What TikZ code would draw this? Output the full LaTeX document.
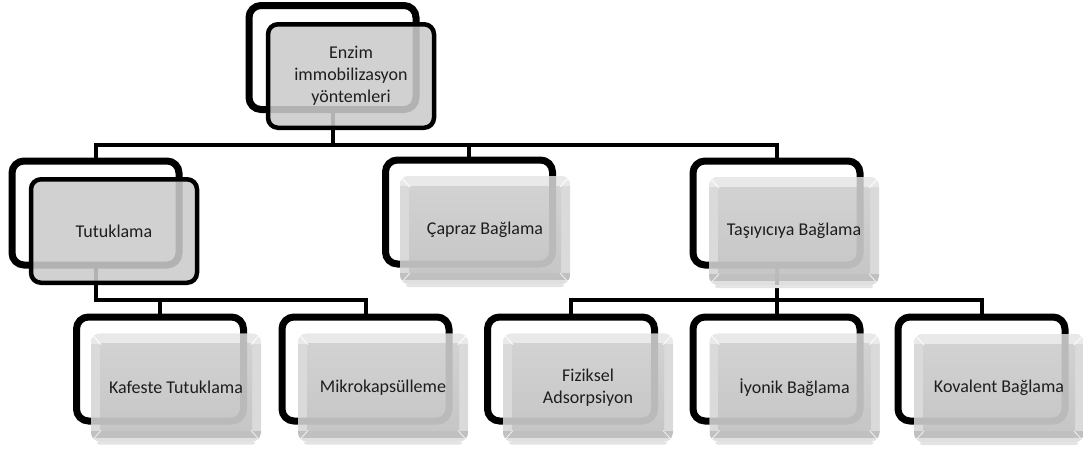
\documentclass[tikz,border=0pt]{standalone}
\usepackage{fontspec}
\setmainfont{Carlito}
\definecolor{flatgray}{RGB}{209,209,209}
\definecolor{flatghost}{RGB}{178,178,178}
\definecolor{glosstopc}{RGB}{233,233,233}
\definecolor{glossside}{RGB}{218,218,218}
\definecolor{facetop}{RGB}{210,210,210}
\definecolor{facebot}{RGB}{198,198,198}
\definecolor{glossbotband}{RGB}{192,192,192}
\definecolor{glosshl}{RGB}{224,224,224}
\definecolor{glossghost}{RGB}{186,186,186}
\definecolor{shadowgray}{RGB}{228,228,228}
\definecolor{txt}{RGB}{30,30,30}
\newcommand{\ppbb}{path picture bounding box}
\newcommand{\glossfill}{%
  \fill[glosstopc, sharp corners] (\ppbb.north west) rectangle ([yshift=-10pt]\ppbb.north east);
  \fill[glossside, sharp corners] ([yshift=-10pt]\ppbb.north west) rectangle ([yshift=11pt]\ppbb.south east);
  \shade[top color=facetop, bottom color=facebot, sharp corners]
    ([xshift=9pt,yshift=-10pt]\ppbb.north west) rectangle ([xshift=-9pt,yshift=11pt]\ppbb.south east);
  \fill[glossbotband, sharp corners] ([yshift=11pt]\ppbb.south west) rectangle ([yshift=4pt]\ppbb.south east);
  \fill[glosshl, sharp corners] ([yshift=4pt]\ppbb.south west) rectangle (\ppbb.south east);}
\newcommand{\glossdiag}{%
  \draw[white, line width=0.8pt] ([xshift=1pt,yshift=-1pt]\ppbb.north west) -- ++(9pt,-10pt);
  \draw[white, line width=0.8pt] ([xshift=-1pt,yshift=-1pt]\ppbb.north east) -- ++(-9pt,-10pt);
  \draw[white!90!gray, line width=0.8pt] ([xshift=1pt,yshift=1pt]\ppbb.south west) -- ++(9pt,10pt);
  \draw[white!90!gray, line width=0.8pt] ([xshift=-1pt,yshift=1pt]\ppbb.south east) -- ++(-9pt,10pt);}
\newcommand{\ghostframe}[2]{%
  \draw[draw=#2, line width=7pt, rounded corners=12pt] (#1.north west) rectangle (#1.south east);}
\newcommand{\ghostdrop}[2]{%
  \draw[draw=#2, line width=4pt, sharp corners] (#1.south) -- (#1.south |- \ppbb.south);}
\newcommand{\gshadow}[1]{%
  \fill[shadowgray, rounded corners=2pt] ([xshift=6pt]#1.south west) rectangle ([xshift=-6pt,yshift=-3pt]#1.south east);}
\tikzset{
  backframe/.style={draw=black, line width=7pt, rounded corners=12pt, fill=white,
    minimum width=167pt, minimum height=104pt, inner sep=0pt, outer sep=0pt},
  textstyle/.style={align=center, text=txt, font=\fontsize{18}{22}\selectfont},
  flatbox/.style={textstyle, draw=black, line width=4.5pt, rounded corners=10pt, fill=flatgray,
    minimum width=166pt, minimum height=103.5pt, inner sep=0pt, outer sep=0pt,
    path picture={\ghostframe{#1}{flatghost}\ghostdrop{#1}{flatghost}}},
  glossbox/.style={textstyle, draw=none, rounded corners=9pt, fill=glossside,
    minimum width=170pt, minimum height=108pt, inner sep=0pt, outer sep=0pt,
    path picture={\glossfill\ghostframe{#1}{glossghost}\glossdiag}},
  glossdropbox/.style={textstyle, draw=none, rounded corners=9pt, fill=glossside,
    minimum width=170pt, minimum height=108pt, inner sep=0pt, outer sep=0pt,
    path picture={\glossfill\ghostframe{#1}{glossghost}\ghostdrop{#1}{glossghost}\glossdiag}},
  conn/.style={draw=black, line width=4pt}
}
\begin{document}
\begin{tikzpicture}[x=1pt,y=-1pt]
\useasboundingbox (0,0) rectangle (1083,448);
% back frames
\node[backframe] (eb) at (332.5,57.5) {};
\node[backframe] (tb) at (95.5,213) {};
\node[backframe] (cb) at (469,212) {};
\node[backframe] (sb) at (776.5,213) {};
\node[backframe] (kb) at (160,369) {};
\node[backframe] (mb) at (365.5,369) {};
\node[backframe] (fb) at (571,369) {};
\node[backframe] (ib) at (776.5,369) {};
\node[backframe] (vb) at (981.5,369) {};
% buses
\coordinate (bus1) at (0,145);
\coordinate (bus2) at (0,300);
% connectors
\draw[conn] (eb.south) -- (eb.south |- bus1);
\draw[conn] (tb.north) -- (tb.north |- bus1) -- (sb.north |- bus1) -- (sb.north);
\draw[conn] (cb.north) -- (cb.north |- bus1);
\draw[conn] (tb.south) -- (tb.south |- bus2) -- (mb.north |- bus2) -- (mb.north);
\draw[conn] (kb.north) -- (kb.north |- bus2);
\draw[conn] (sb.south) -- (sb.south |- bus2);
\draw[conn] (fb.north) -- (fb.north |- bus2) -- (vb.north |- bus2) -- (vb.north);
\draw[conn] (ib.north) -- (ib.north |- bus2);
% front boxes
\node[flatbox=eb] (ef) at (351,76) {Enzim\\immobilizasyon\\yöntemleri};
\node[flatbox=tb] (tf) at (114,231) {Tutuklama};
\node[glossbox=cb] (cf) at (485,230) {Çapraz Bağlama};
\gshadow{cf}
\node[glossdropbox=sb] (sf) at (794,231) {Taşıyıcıya Bağlama};
\gshadow{sf}
\node[glossbox=kb] (kf) at (176,387.5) {Kafeste Tutuklama};
\gshadow{kf}
\node[glossbox=mb] (mf) at (383,387.5) {Mikrokapsülleme};
\gshadow{mf}
\node[glossbox=fb] (ff) at (588,387.5) {Fiziksel\\Adsorpsiyon};
\gshadow{ff}
\node[glossbox=ib] (if) at (794.5,387.5) {İyonik Bağlama};
\gshadow{if}
\node[glossbox=vb] (vf) at (999,388) {Kovalent Bağlama};
\gshadow{vf}
\end{tikzpicture}
\end{document}
